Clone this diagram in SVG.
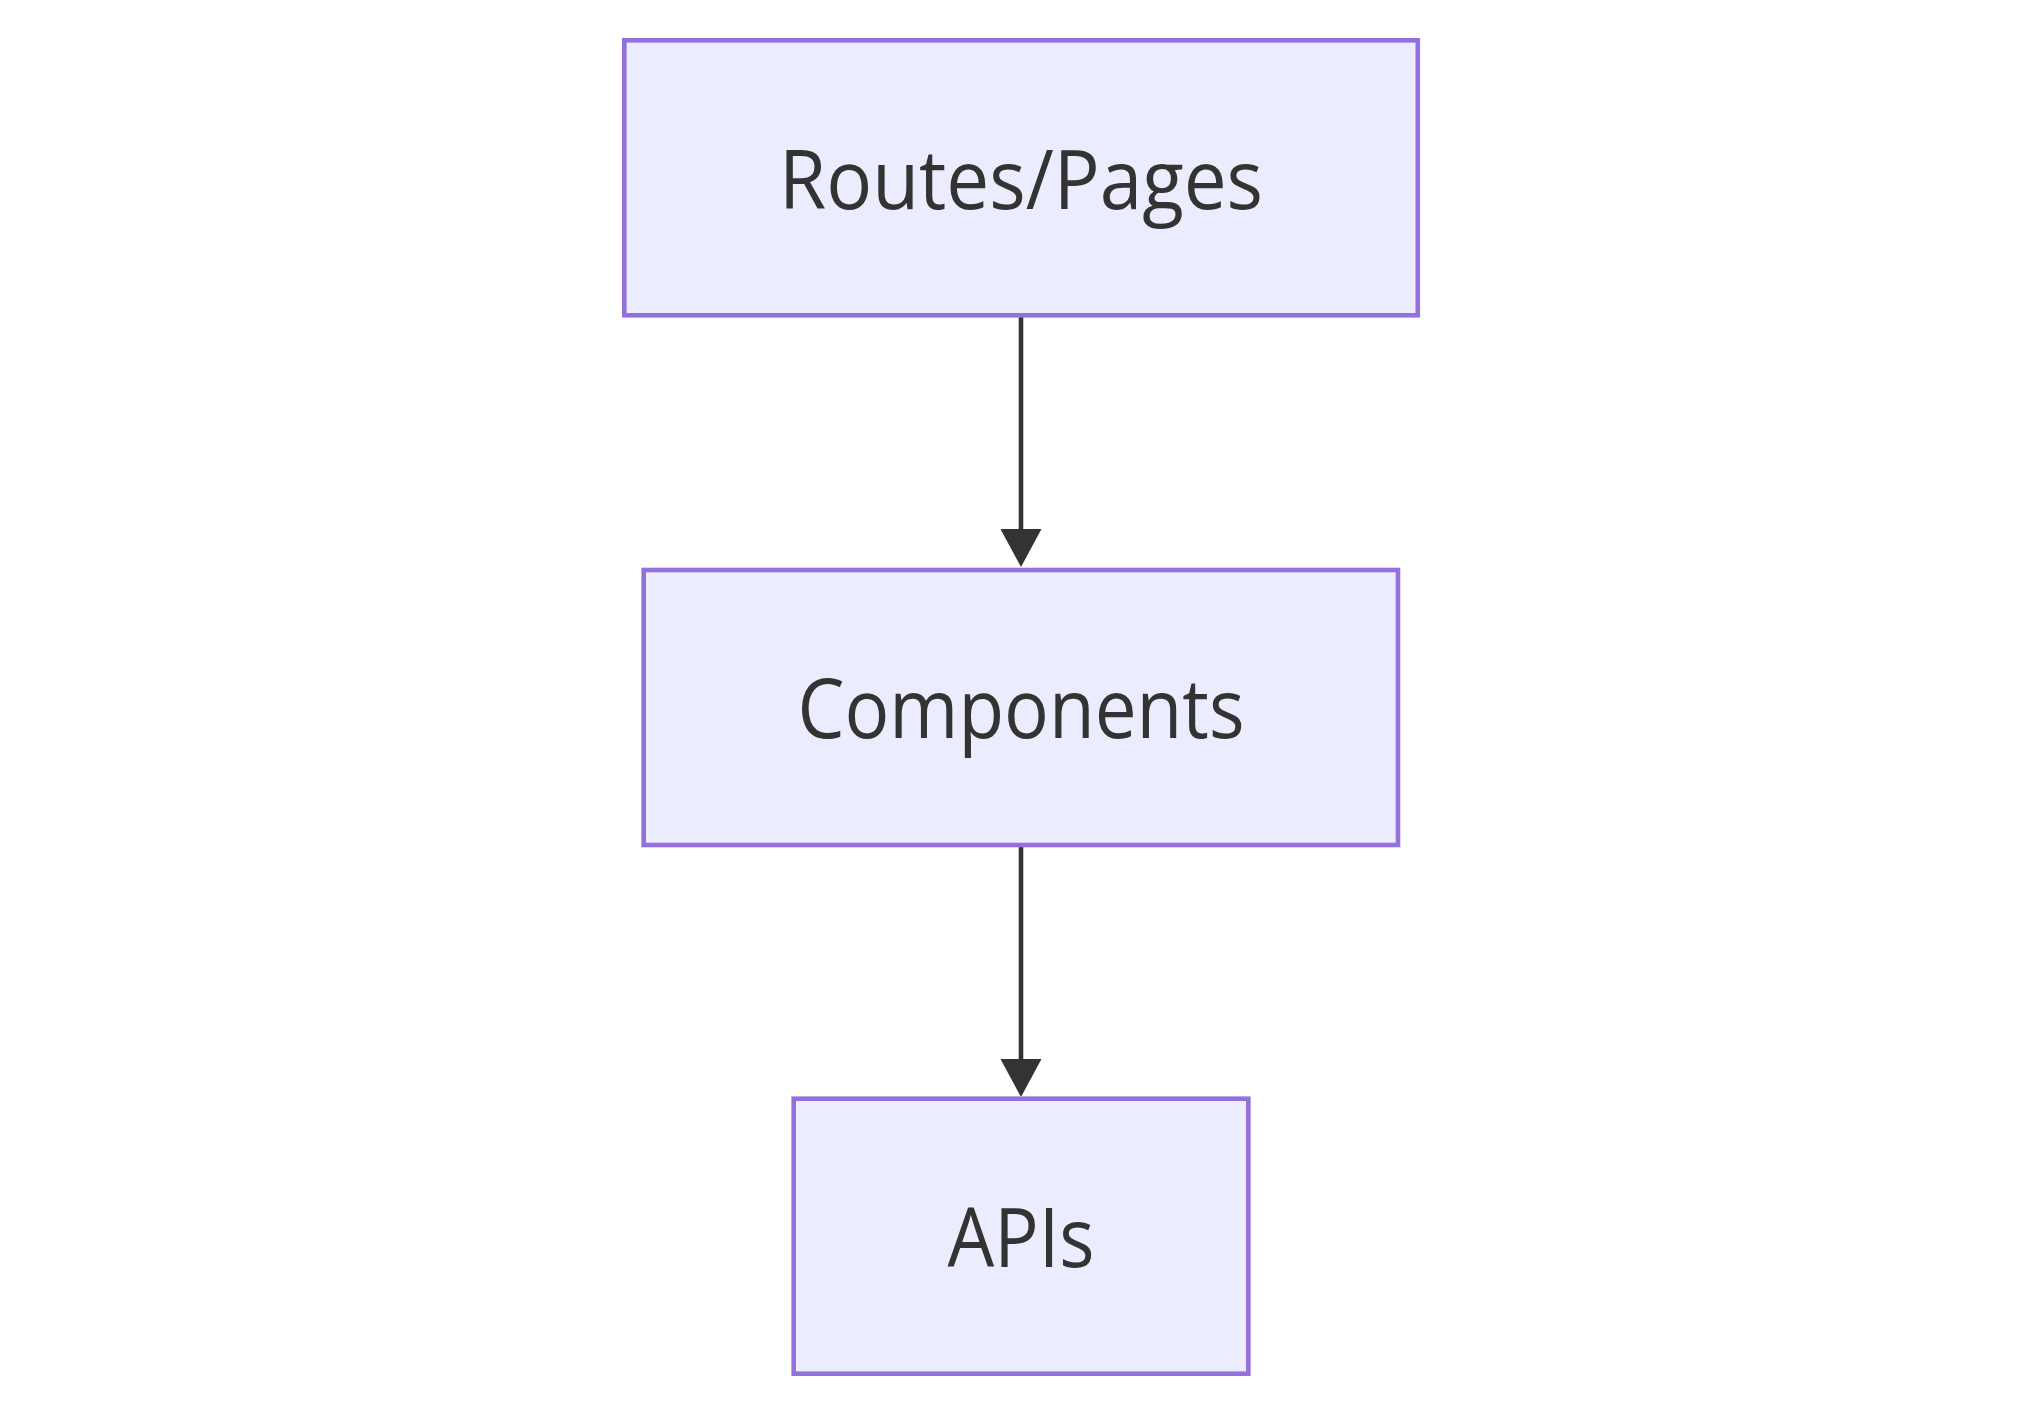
<svg xmlns="http://www.w3.org/2000/svg" width="2042" height="1415" viewBox="0 0 2042 1415">
  <style>
    .node rect { fill: #ECECFF; stroke: #9370DB; stroke-width: 4.6; }
    .node text { fill: #333333; font-family: "Open Sans", "Noto Sans", "Liberation Sans", sans-serif; font-size: 82px; font-weight: 500; text-anchor: middle; }
    .edge { fill: none; stroke: #333333; stroke-width: 4.6; }
  </style>
  <defs>
    <marker id="arrow" markerUnits="userSpaceOnUse" viewBox="0 0 38 41" markerWidth="38" markerHeight="41" refX="6" refY="20.5" orient="auto">
      <path d="M0,0 L38,20.5 L0,41 Z" fill="#333333"/>
    </marker>
  </defs>
  <rect width="2042" height="1415" fill="#ffffff"/>
  <g id="connectors">
    <path class="edge" d="M1021,317 L1021,535" marker-end="url(#arrow)"/>
    <path class="edge" d="M1021,847 L1021,1065" marker-end="url(#arrow)"/>
  </g>
  <g id="node-routes" class="node">
    <rect x="624.3" y="40.3" width="793.5" height="275"/>
    <text x="1021" y="209" textLength="484" lengthAdjust="spacingAndGlyphs">Routes/Pages</text>
  </g>
  <g id="node-components" class="node">
    <rect x="643.7" y="570" width="754.3" height="275"/>
    <text x="1021" y="738" textLength="447" lengthAdjust="spacingAndGlyphs">Components</text>
  </g>
  <g id="node-apis" class="node">
    <rect x="793.7" y="1098.7" width="454.6" height="275"/>
    <text x="1021" y="1267" textLength="147" lengthAdjust="spacingAndGlyphs">APIs</text>
  </g>
</svg>
